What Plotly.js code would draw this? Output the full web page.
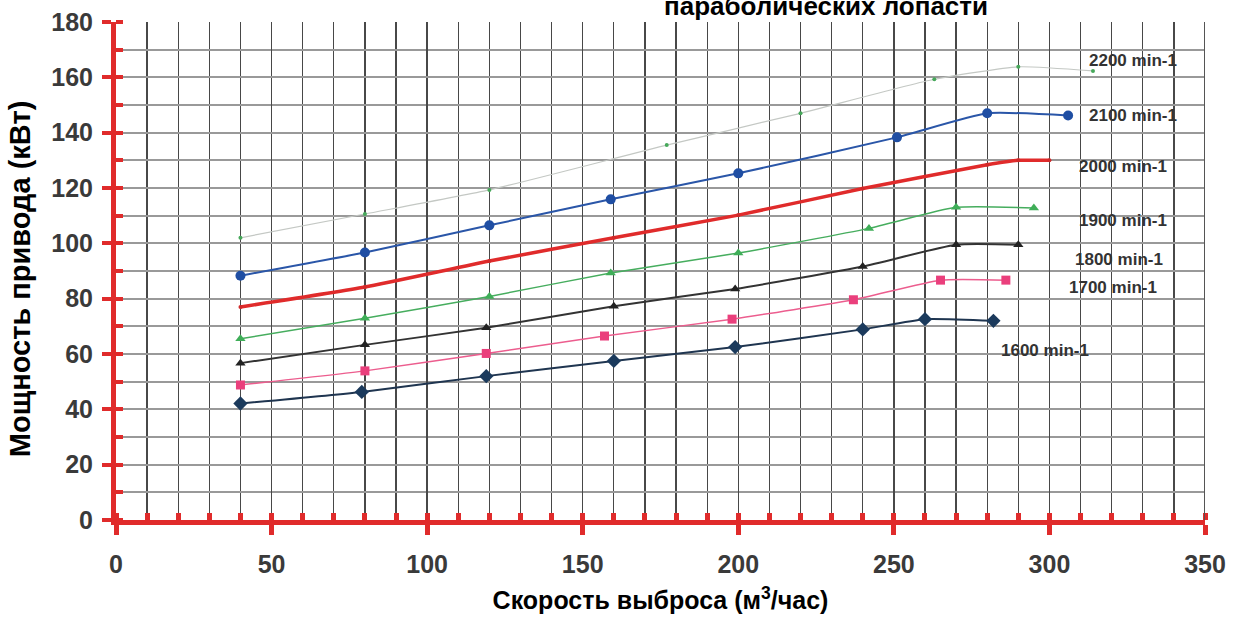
<!DOCTYPE html>
<html>
<head>
<meta charset="utf-8">
<script src="https://cdn.plot.ly/plotly-3.0.1.min.js"></script>
<style>html,body{margin:0;padding:0;background:#fff;}#chart{width:1242px;height:620px;}</style>
</head>
<body>
<div id="chart"></div>
<script>
// ---- data ----
const x2200 = [40, 80, 120, 177, 220, 263, 290, 314];
const y2200 = [102, 110.6, 119.3, 135.5, 147, 159.3, 163.8, 162.3];

const x2100 = [40, 80, 120, 159, 200, 251, 280, 306];
const y2100 = [88.3, 96.7, 106.5, 115.9, 125.3, 138.3, 147, 146.2];

const x2000 = [40, 80, 120, 160, 200, 240, 280, 290, 300];
const y2000 = [77, 84.2, 93.6, 102, 110.2, 119.8, 128.4, 130, 130];

const x1900 = [40, 80, 120, 159, 200, 242, 270, 295];
const y1900 = [65.5, 72.9, 80.8, 89.3, 96.5, 105.4, 113, 112.8];

const x1800 = [40, 80, 119, 160, 199, 240, 270, 290];
const y1800 = [56.7, 63.3, 69.5, 77.3, 83.5, 91.6, 99.5, 99.5];

const x1700 = [40, 80, 119, 157, 198, 237, 265, 286];
const y1700 = [48.8, 53.9, 60.2, 66.5, 72.6, 79.6, 86.7, 86.7];

const x1600 = [40, 79, 119, 160, 199, 240, 260, 282];
const y1600 = [42.1, 46.3, 52, 57.5, 62.5, 68.9, 72.6, 72];

const seriesLabels = ['2200 min-1', '2100 min-1', '2000 min-1', '1900 min-1', '1800 min-1', '1700 min-1', '1600 min-1'];
const labelX = [327, 327, 323.5, 323.5, 322.5, 320.5, 298.5];
const labelY = [166, 146.3, 127.9, 108.4, 94, 83.9, 61.4];

const xTitle = 'Скорость выброса (м<sup>3</sup>/час)';
const yTitle = 'Мощность привода (кВт)';
const chartTitle = 'параболических лопасти';

// ---- traces ----
const RED = '#e02b2b';
function tr(x, y, lineColor, lineWidth, symbol, mSize, mColor) {
  return {
    x: x, y: y, type: 'scatter', mode: 'lines+markers',
    line: {color: lineColor, width: lineWidth, shape: 'spline', smoothing: 0.5},
    marker: {symbol: symbol, size: mSize, color: mColor},
    hoverinfo: 'x+y', showlegend: false
  };
}
const data = [
  tr(x2200, y2200, '#c4c8c4', 1.2, 'circle', 4, '#46a85a'),
  tr(x2100, y2100, '#2a56a8', 2, 'circle', 10, '#1f4ea3'),
  tr(x2000, y2000, RED, 3.5, 'circle', 4, '#d02a2a'),
  tr(x1900, y1900, '#46ad5e', 1.5, 'triangle-up', 9, '#3fae58'),
  tr(x1800, y1800, '#333333', 2, 'triangle-up', 9, '#222222'),
  tr(x1700, y1700, '#ec5d8e', 1.5, 'square', 9, '#ea3f7c'),
  tr(x1600, y1600, '#1f3550', 2, 'diamond', 11, '#1b3a5c')
];

const FAM = 'Liberation Sans, Arial, sans-serif';
const tickFont = {family: FAM, size: 25, color: '#3a3a3a', weight: 'bold'};
const xTitleFont = {family: FAM, size: 25, color: '#000', weight: 'bold'};

const annotations = seriesLabels.map((t, i) => ({
  x: labelX[i], y: labelY[i], xref: 'x', yref: 'y', text: t, showarrow: false,
  font: {family: FAM, size: 17, color: '#333', weight: 'bold'}
}));
annotations.push({
  xref: 'paper', yref: 'paper', x: 0.652, y: 1.033, xanchor: 'center', yanchor: 'middle',
  text: chartTitle, showarrow: false, font: {family: FAM, size: 26, color: '#000', weight: 'bold'}
});
// y-axis title (placed as rotated text to match its vertical position)
annotations.push({
  xref: 'paper', yref: 'paper', x: -0.088, y: 0.484, xanchor: 'center', yanchor: 'middle',
  textangle: -90, text: yTitle, showarrow: false,
  font: {family: FAM, size: 29, color: '#000', weight: 'bold'}
});

const layout = {
  width: 1242, height: 620,
  margin: {l: 116, r: 37, t: 22, b: 100},
  paper_bgcolor: '#fff', plot_bgcolor: '#fff',
  showlegend: false,
  xaxis: {
    range: [0, 350], dtick: 50, tick0: 0,
    showgrid: true, gridcolor: '#484848', gridwidth: 1.3,
    zeroline: false,
    showline: true, linecolor: RED, linewidth: 5,
    ticks: 'outside', ticklen: 10, tickwidth: 5, tickcolor: RED,
    ticklabelstandoff: 8,
    tickfont: tickFont,
    minor: {dtick: 10, ticks: 'inside', ticklen: 7, tickwidth: 5, tickcolor: RED,
            showgrid: true, gridcolor: '#484848', gridwidth: 1.3},
    title: {text: xTitle, font: xTitleFont, standoff: 16},
    fixedrange: true
  },
  yaxis: {
    range: [0, 180], dtick: 20, tick0: 0,
    showgrid: true, gridcolor: '#999999', gridwidth: 2.2,
    zeroline: false,
    showline: true, linecolor: RED, linewidth: 5,
    ticks: 'outside', ticklen: 9, tickwidth: 4, tickcolor: RED,
    ticklabelstandoff: 4,
    tickfont: tickFont,
    minor: {dtick: 10, ticks: 'inside', ticklen: 7, tickwidth: 4, tickcolor: RED,
            showgrid: true, gridcolor: '#999999', gridwidth: 2.2},
    fixedrange: true
  },
  shapes: [
    {type: 'line', xref: 'x', yref: 'y', x0: 59, x1: 139, y0: 180.6, y1: 180.6, line: {color: '#888', width: 3}},
    {type: 'line', xref: 'x', yref: 'y', x0: 300, x1: 350, y0: 180.6, y1: 180.6, line: {color: '#555', width: 2}},
    {type: 'line', xref: 'x', yref: 'y', x0: 350, x1: 350, y0: 0, y1: 180.6, line: {color: '#555', width: 2}}
  ],
  annotations: annotations
};

Plotly.newPlot('chart', data, layout, {displayModeBar: false, staticPlot: true});
</script>
</body>
</html>
